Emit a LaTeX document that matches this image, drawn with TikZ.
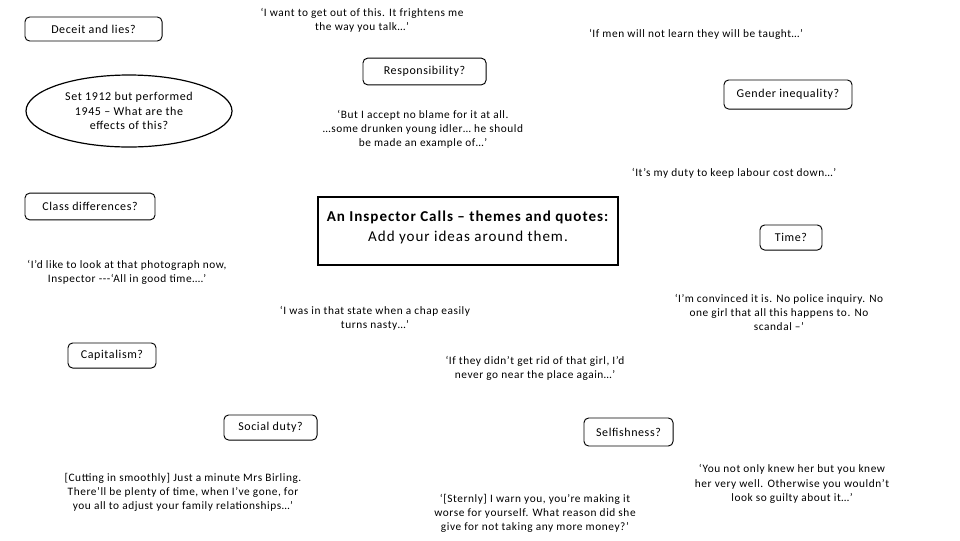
\documentclass[tikz,border=0pt]{standalone}
\usepackage{fontspec}
\setmainfont{Carlito}
\newfontfamily\quotefont[LetterSpace=5]{Carlito}
\newfontfamily\titlefont[LetterSpace=6.5]{Carlito}
\usetikzlibrary{shapes.geometric}
\tikzset{
  theme/.style={draw, rounded corners=3.5pt, line width=0.7pt, inner sep=0pt,
    font=\quotefont\fontsize{9}{11}\selectfont},          % theme boxes
  quote/.style={align=center, inner sep=0pt,
    font=\quotefont\fontsize{8.5}{10.6}\selectfont},      % quotes from the play
  titlebox/.style={draw, line width=1.6pt, inner sep=0pt},
  titletext/.style={align=center, inner sep=0pt, font=\titlefont\fontsize{11.3}{15}\selectfont},
  bubble/.style={ellipse, draw, line width=0.9pt, inner sep=0pt, align=center,
    font=\quotefont\fontsize{9}{10.8}\selectfont}
}

\begin{document}
\begin{tikzpicture}[x=0.75pt, y=-0.75pt]
  \path[use as bounding box] (0,0) rectangle (960,540);
  % centre box
  \node[titlebox, minimum width=225pt, minimum height=51pt] (title) at (468,231) {};
  \node[titletext] (titletxt) at (468,227)
    {\textbf{An Inspector Calls – themes and quotes:}\\Add your ideas around them.};
  % themes
  \node[theme, minimum width=102.8pt, minimum height=18pt] (deceit) at (93.5,29) {Deceit and lies?};
  \node[theme, minimum width=92.3pt, minimum height=20pt] (resp) at (424.5,71.5) {Responsibility?};
  \node[theme, minimum width=96pt, minimum height=21.8pt] (gender) at (788,94.5) {Gender inequality?};
  \node[theme, minimum width=97.5pt, minimum height=20pt] (class) at (90,206.5) {Class differences?};
  \node[theme, minimum width=46.5pt, minimum height=18.8pt] (time) at (791,237.5) {Time?};
  \node[theme, minimum width=66pt, minimum height=18.8pt] (capital) at (112,355.5) {Capitalism?};
  \node[theme, minimum width=69.8pt, minimum height=18.8pt] (social) at (270.5,427.5) {Social duty?};
  \node[theme, minimum width=66.8pt, minimum height=21pt] (selfish) at (628.5,432) {Selfishness?};
  \node[bubble, minimum width=154.5pt, minimum height=54pt] (era) at (129,111)
    {Set 1912 but performed\\1945 – What are the\\effects of this?};
  % quotes
  \node[quote] (qfrighten) at (362,20)
    {‘I want to get out of this. It frightens me\\the way you talk…’};
  \node[quote] (qtaught) at (696,34) {‘If men will not learn they will be taught…’};
  \node[quote] (qblame) at (423,129)
    {‘But I accept no blame for it at all.\\…some drunken young idler… he should\\be made an example of…’};
  \node[quote] (qlabour) at (734,173) {‘It’s my duty to keep labour cost down…’};
  \node[quote] (qphoto) at (127,272.5)
    {‘I’d like to look at that photograph now,\\Inspector -{}-{}-‘All in good time….’};
  \node[quote] (qpolice) at (779,312.5)
    {‘I’m convinced it is. No police inquiry. No\\one girl that all this happens to. No\\scandal –’};
  \node[quote] (qnasty) at (375,318) {‘I was in that state when a chap easily\\turns nasty…’};
  \node[quote] (qgirl) at (535,368) {‘If they didn’t get rid of that girl, I’d\\never go near the place again…’};
  \node[quote] (qcutting) at (183,492.5)
    {[Cutting in smoothly] Just a minute Mrs Birling.\\There’ll be plenty of time, when I’ve gone, for\\you all to adjust your family relationships…’};
  \node[quote] (qguilty) at (792,484)
    {‘You not only knew her but you knew\\her very well. Otherwise you wouldn’t\\look so guilty about it…’};
  \node[quote] (qsternly) at (535,513.5)
    {‘[Sternly] I warn you, you’re making it\\worse for yourself. What reason did she\\give for not taking any more money?’};
\end{tikzpicture}
\end{document}
